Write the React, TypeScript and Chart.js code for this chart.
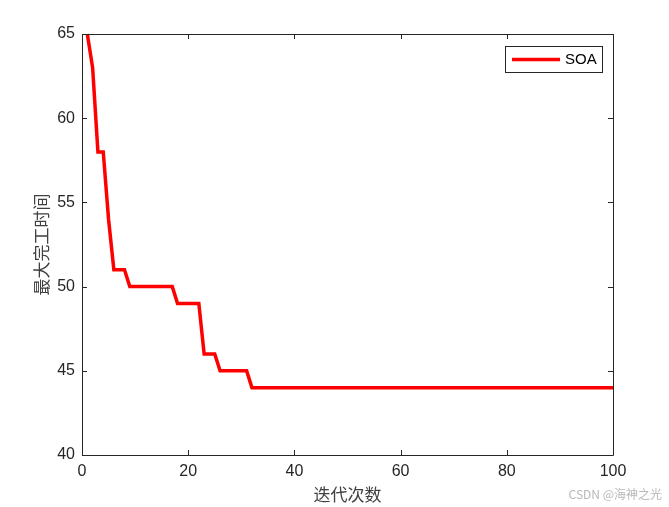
import React, { useEffect, useRef } from "react";
import { Chart, registerables } from "chart.js";

Chart.register(...registerables);

const iterations: number[] = Array.from({ length: 100 }, (_, i) => i + 1);
const soaValues: number[] = [
  65, 63, 58, 58, 54, 51, 51, 51,
  50, 50, 50, 50, 50, 50, 50, 50, 50,
  49, 49, 49, 49, 49,
  46, 46, 46,
  45, 45, 45, 45, 45, 45,
  44, 44, 44, 44, 44, 44, 44, 44, 44, 44,
  44, 44, 44, 44, 44, 44, 44, 44, 44, 44,
  44, 44, 44, 44, 44, 44, 44, 44, 44, 44,
  44, 44, 44, 44, 44, 44, 44, 44, 44, 44,
  44, 44, 44, 44, 44, 44, 44, 44, 44, 44,
  44, 44, 44, 44, 44, 44, 44, 44, 44, 44,
  44, 44, 44, 44, 44, 44, 44, 44, 44,
];
const xTicks: number[] = [0, 20, 40, 60, 80, 100];
const yTicks: number[] = [40, 45, 50, 55, 60, 65];
const seriesName = "SOA";
const xTitle = "迭代次数";
const yTitle = "最大完工时间";
const watermark = "CSDN @海神之光";

const axisColor = "#262626";

const decorPlugin = {
  id: "decor",
  afterDraw(chart: any) {
    const ctx = chart.ctx as CanvasRenderingContext2D;
    const { left, right, top, bottom } = chart.chartArea;
    const xs = chart.scales.x;
    const ys = chart.scales.y;
    ctx.save();
    // box
    ctx.strokeStyle = axisColor;
    ctx.lineWidth = 1;
    ctx.beginPath();
    ctx.rect(Math.round(left) + 0.5, Math.round(top) + 0.5, Math.round(right - left), Math.round(bottom - top));
    ctx.stroke();
    // ticks
    const tl = 5;
    ctx.beginPath();
    xTicks.forEach((v) => {
      const px = Math.round(xs.getPixelForValue(v)) + 0.5;
      ctx.moveTo(px, bottom);
      ctx.lineTo(px, bottom - tl);
      ctx.moveTo(px, top);
      ctx.lineTo(px, top + tl);
    });
    yTicks.forEach((v) => {
      const py = Math.round(ys.getPixelForValue(v)) + 0.5;
      ctx.moveTo(left, py);
      ctx.lineTo(left + tl, py);
      ctx.moveTo(right, py);
      ctx.lineTo(right - tl, py);
    });
    ctx.stroke();
    // titles
    ctx.fillStyle = "#404040";
    ctx.font = "17px 'Noto Sans CJK SC'";
    ctx.textAlign = "center";
    ctx.textBaseline = "middle";
    ctx.fillText(xTitle, (left + right) / 2, 495);
    ctx.save();
    ctx.translate(42, (top + bottom) / 2);
    ctx.rotate(-Math.PI / 2);
    ctx.fillText(yTitle, 0, 0);
    ctx.restore();
    // legend
    const lx = 505, ly = 46, lw = 97, lh = 26;
    ctx.fillStyle = "#ffffff";
    ctx.fillRect(lx, ly, lw, lh);
    ctx.strokeStyle = axisColor;
    ctx.lineWidth = 1;
    ctx.strokeRect(lx + 0.5, ly + 0.5, lw, lh);
    ctx.strokeStyle = "#ff0000";
    ctx.lineWidth = 3.5;
    ctx.beginPath();
    ctx.moveTo(512, ly + lh / 2 + 0.5);
    ctx.lineTo(560, ly + lh / 2 + 0.5);
    ctx.stroke();
    ctx.fillStyle = "#000000";
    ctx.font = "15px 'Liberation Sans'";
    ctx.textAlign = "left";
    ctx.fillText(chart.data.datasets[0].label, 565, ly + lh / 2 + 1);
    // watermark
    ctx.fillStyle = "#b8b8b8";
    ctx.font = "12px 'Noto Sans CJK SC'";
    ctx.textAlign = "right";
    ctx.fillText(watermark, 662, 494);
    ctx.restore();
  },
};

export default function App() {
  const ref = useRef<HTMLCanvasElement>(null);
  useEffect(() => {
    if (!ref.current) return;
    const chart = new Chart(ref.current, {
      type: "line",
      data: {
        labels: iterations,
        datasets: [
          {
            label: seriesName,
            data: iterations.map((x, i) => ({ x, y: soaValues[i] })),
            borderColor: "#ff0000",
            borderWidth: 3.5,
            pointRadius: 0,
            tension: 0,
            fill: false,
            clip: 2,
          },
        ],
      },
      options: {
        responsive: false,
        animation: false,
        layout: { padding: { left: 0, right: 56, top: 34, bottom: 0 } },
        plugins: { legend: { display: false }, tooltip: { enabled: false } },
        scales: {
          x: {
            type: "linear",
            min: 0,
            max: 100,
            afterFit: (s: any) => {
              s.height = 52;
            },
            afterBuildTicks: (s: any) => {
              s.ticks = xTicks.map((v) => ({ value: v }));
            },
            grid: { display: false, drawTicks: false },
            border: { display: false },
            ticks: {
              color: axisColor,
              font: { family: "'Liberation Sans'", size: 16 },
              padding: 7,
              maxRotation: 0,
            },
          },
          y: {
            type: "linear",
            min: 40,
            max: 65,
            afterFit: (s: any) => {
              s.width = 82;
            },
            afterBuildTicks: (s: any) => {
              s.ticks = yTicks.map((v) => ({ value: v }));
            },
            grid: { display: false, drawTicks: false },
            border: { display: false },
            ticks: {
              color: axisColor,
              font: { family: "'Liberation Sans'", size: 16 },
              padding: 7,
            },
          },
        },
      },
      plugins: [decorPlugin],
    });
    return () => chart.destroy();
  }, []);
  return (
    <div style={{ position: "fixed", left: 0, top: 0, width: 669, height: 507, background: "#fff" }}>
      <canvas ref={ref} width={669} height={507} style={{ width: 669, height: 507 }} />
    </div>
  );
}
